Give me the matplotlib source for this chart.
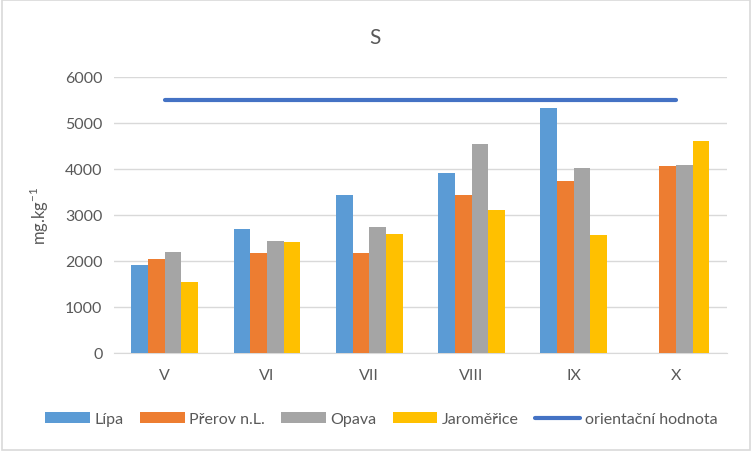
import numpy as np
import matplotlib
matplotlib.use('Agg')
import matplotlib.pyplot as plt
from matplotlib.patches import Rectangle

plt.rcParams['font.family'] = ['Lato', 'DejaVu Sans']

# data
months = ['V', 'VI', 'VII', 'VIII', 'IX', 'X']
lipa = [1915, 2695, 3435, 3915, 5325, np.nan]
prerov = [2040, 2170, 2170, 3435, 3735, 4060]
opava = [2190, 2430, 2735, 4540, 4020, 4085]
jaromerice = [1540, 2410, 2585, 3105, 2560, 4605]
orientacni = [5500, 5500, 5500, 5500, 5500, 5500]

series = [('Lípa', lipa, '#5B9BD5'),
          ('Přerov n.L.', prerov, '#ED7D31'),
          ('Opava', opava, '#A5A5A5'),
          ('Jaroměřice', jaromerice, '#FFC000')]

txt = '#595959'
fig = plt.figure(figsize=(7.52, 4.52), dpi=100)
ax = fig.add_axes([0.151, 0.217, 0.816, 0.611])

x = np.arange(len(months))
w = 0.163
handles = []
for i, (name, vals, col) in enumerate(series):
    handles.append(ax.bar(x + (i - 1.5) * w, vals, w, color=col, label=name, zorder=3))
line, = ax.plot(x, orientacni, color='#4472C4', lw=3, solid_capstyle='round',
                label='orientační hodnota', zorder=4)
handles.append(line)

ax.set_xlim(-0.5, 5.5)
ax.set_ylim(0, 6000)
ax.set_yticks(range(0, 6001, 1000))
ax.set_xticks(x)
ax.set_xticklabels(months)
ax.grid(axis='y', color='#D9D9D9', lw=1, zorder=0)
for s in ['top', 'right', 'left']:
    ax.spines[s].set_visible(False)
ax.spines['bottom'].set_color('#D9D9D9')
ax.tick_params(axis='both', length=0, labelsize=11.5, colors=txt)
ax.tick_params(axis='x', pad=11)
ax.tick_params(axis='y', pad=8)
ax.set_ylabel('mg.kg$^{\\mathregular{-1}}$', fontsize=12, color=txt, labelpad=10)
fig.text(0.499, 0.915, 'S', ha='center', va='center', fontsize=15, color=txt)

ax.legend(handles=handles, loc='center', bbox_to_anchor=(0.507, 0.07),
          bbox_transform=fig.transFigure,
          ncol=5, frameon=False, fontsize=11.5, labelcolor=txt,
          handlelength=2.8, handleheight=0.7, columnspacing=1.0, handletextpad=0.3)

fig.patches.append(Rectangle((0.002, 0.002), 0.996, 0.996, transform=fig.transFigure,
                             fill=False, edgecolor='#D9D9D9', lw=1.2))

fig.savefig('out.png', dpi=100, facecolor='white')
